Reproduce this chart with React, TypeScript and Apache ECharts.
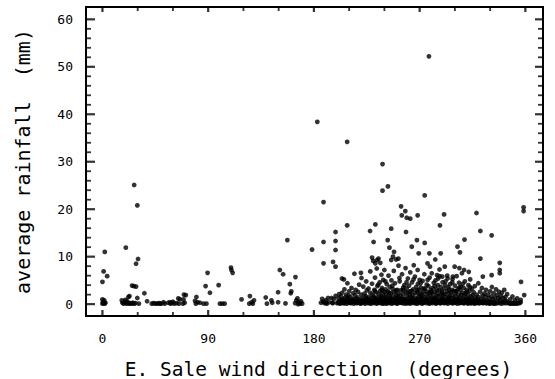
import React, { useEffect, useRef } from "react";
import * as echarts from "echarts";

const xMajorTicks = [0, 90, 180, 270, 360];
const xMinorTicks = [30, 60, 120, 150, 210, 240, 300, 330];
const yMajorTicks = [0, 10, 20, 30, 40, 50, 60];
const yMinorTicks = [2, 4, 6, 8, 12, 14, 16, 18, 22, 24, 26, 28, 32, 34, 36, 38, 42, 44, 46, 48, 52, 54, 56, 58];

// [wind direction (deg), average rainfall (mm)]
const northPoints = [
  [0, 0.1], [0.5, 0.5], [1, 0.2], [1.5, 0.8], [2, 0.1], [0, 1.0], [1, 0.4], [2.5, 0.3],
  [2, 11.0], [1, 6.9], [0, 4.7], [4, 5.9],
  [16.5, 0.8], [17, 0.3], [18, 0.1], [19, 0.5], [20, 0.2], [21, 0.1], [22, 0.3], [23, 0.1], [24, 0.2],
  [25, 0.1], [26, 0.3], [27, 0.1], [28, 0.2], [19.5, 0.9], [21, 0.6],
  [19.9, 11.9], [22.1, 1.5], [23, 1.7], [27, 25.1], [29.7, 20.8], [30.3, 9.5], [28.6, 8.5], [25.2, 3.9],
  [26.8, 3.8], [28.6, 3.7], [29.7, 1.3], [31, 0.1], [35.7, 2.3], [38, 0.6],
  [42, 0.1], [43.5, 0.2], [45, 0.1], [46.5, 0.1], [48, 0.2], [49, 0.1], [50, 0.1], [52, 0.4], [53, 0.1],
  [56, 0.3], [57.5, 0.4], [58, 0.1], [59, 0.3], [60, 0.5], [61, 0.1],
  [64.6, 1.2], [63, 0.2], [65, 0.1], [66, 1.0], [69.4, 2.0], [69, 1.0], [68.5, 0.1], [70, 0.3], [71, 1.9],
  [78.8, 0.7], [79.5, 0.1], [80, 1.5], [81, 0.4], [83, 0.3], [86, 0.1], [87.8, 3.8], [89.5, 6.6], [88.5, 0.1],
  [91.5, 2.4], [98.9, 4.0], [100, 0.1], [102, 0.1], [104, 0.1],
  [109.4, 7.7], [109.8, 7.2], [110.8, 6.6], [118.4, 1.0], [125.5, 1.7], [125, 0.1], [127, 0.4], [128, 0.1], [129, 0.8],
];

const southPoints = [
  [139, 1.4], [140, 0.1], [143.8, 0.8], [144.5, 0.3], [149.5, 2.5], [151, 7.2], [153.8, 6.3], [149.5, 0.4], [155.8, 0.15],
  [159.5, 4.2], [160.3, 2.3], [160.8, 2.7], [164.3, 5.7], [157.4, 13.5], [164, 0.2], [165, 0.8], [166, 1.2],
  [167, 0.4], [168, 0.1], [166.5, 0.0], [169, 0.6], [170, 0.1],
  [178.4, 11.5], [182.9, 38.4],
  [186, 0.3], [187, 1.1], [188, 0.5], [189, 0.2], [190, 0.8], [190.4, 0.3], [191, 0.1], [192, 1.3], [193, 0.4],
  [194.9, 1.3], [195.8, 0.3], [196, 0.2], [197, 1.1], [198.5, 1.75], [199.7, 0.2],
  [188.2, 21.5], [188.2, 13.1], [188.2, 8.6], [196.3, 8.9], [198.4, 15.2], [198.4, 13.3], [198.4, 11.4], [198.4, 7.9],
];

const southWestPoints = [
  [200.5, 0.3], [201, 1.2], [201.5, 2.1], [202, 0.1], [202.5, 0.7], [203, 1.6], [203.5, 0.2], [204, 2.4], [204.5, 0.5],
  [205, 1.0], [205.5, 5.2], [206, 0.2], [206, 3.1], [206.5, 1.4], [207, 0.6], [207.5, 2.0], [208, 0.1], [208.5, 4.4],
  [209, 0.9], [209.5, 1.8], [210, 0.3], [210, 2.7],
  [210.5, 0.8], [211, 1.5], [211.5, 0.2], [212, 3.4], [212.5, 0.6], [213, 1.1], [213.5, 2.3], [214, 0.1], [214.5, 6.4],
  [215, 0.4], [215, 1.9], [215.5, 3.0], [216, 0.7], [216.5, 0.2], [217, 1.4], [217.5, 2.6], [218, 0.5], [218.5, 4.1],
  [219, 1.0], [219.5, 0.1], [220, 2.0], [220, 6.6], [220.5, 5.5],
  [221, 0.3], [221.5, 1.3], [222, 3.7], [222.5, 0.6], [223, 2.2], [223.5, 0.1], [224, 1.7], [224.5, 4.8], [225, 0.4],
  [225, 2.9], [225.5, 1.0], [226, 0.2], [226.5, 3.3], [227, 1.5], [227.5, 0.5], [228, 6.9], [228, 2.4], [228.5, 0.1],
  [229, 1.2], [229.5, 4.3], [229.5, 9.8], [230, 0.7], [230, 2.0], [230.5, 9.1],
  [231, 0.2], [231, 1.6], [231.5, 3.0], [232, 0.5], [232, 5.6], [232.5, 1.1], [233, 2.5], [233.5, 0.1], [233.5, 7.5],
  [234, 1.4], [234, 3.8], [234.5, 0.6], [235, 2.1], [235, 9.6], [235.5, 0.3], [236, 1.0], [236, 4.6], [236.5, 8.7],
  [236.5, 2.8], [237, 0.2], [237, 1.7], [237.5, 6.2], [238, 0.8], [238, 3.4], [238.5, 0.1], [238.5, 2.2], [239, 1.3],
  [239, 5.1], [239.5, 0.4], [240, 2.6], [240, 0.9], [240, 7.2],
];

const westPoints = [
  [240.5, 0.2], [240.5, 1.5], [241, 3.1], [241, 0.6], [241.5, 2.0], [242, 0.1], [242, 4.2], [242.5, 1.1], [243, 0.4],
  [243, 2.7], [243.5, 6.0], [244, 1.8], [244, 0.3], [244.5, 3.6], [245, 0.8], [245, 1.4], [245.5, 2.3], [246, 0.1],
  [246, 5.0], [246.5, 0.9], [247, 3.2], [247, 1.6], [247.5, 0.2], [248, 2.5], [248, 7.0], [248.5, 0.5], [249, 1.2],
  [249, 4.4], [249.5, 0.3], [250, 2.0], [250, 9.4], [250, 0.7],
  [250.5, 1.5], [251, 0.1], [251, 3.0], [251.5, 0.6], [252, 2.2], [252, 8.1], [252.5, 1.0], [253, 0.3], [253, 4.8],
  [253.5, 1.8], [254, 0.4], [254, 2.9], [254.5, 0.9], [255, 6.3], [255, 1.3], [255.5, 0.2], [256, 3.5], [256, 2.1],
  [256.5, 0.6], [257, 1.1], [257, 4.0], [257.5, 0.1], [258, 2.6], [258, 7.6], [258.5, 0.5], [259, 1.7], [259, 3.3],
  [259.5, 0.8], [260, 0.2], [260, 2.4], [260, 5.4],
  [260.5, 1.2], [261, 0.4], [261, 3.9], [261.5, 2.0], [262, 0.1], [262, 6.7], [262.5, 1.5], [263, 0.7], [263, 2.8],
  [263.5, 4.6], [264, 0.3], [264, 1.9], [264.5, 3.1], [265, 0.9], [265, 8.2], [265.5, 0.2], [266, 2.3], [266, 5.8],
  [266.5, 1.3], [267, 0.5], [267, 3.6], [267.5, 1.0], [268, 2.5], [268, 0.1], [268.5, 4.3], [269, 1.6], [269, 0.6],
  [269.5, 3.0], [270, 0.3], [270, 2.0], [270, 5.1],
  [270.5, 1.1], [271, 0.4], [271, 3.5], [271.5, 2.2], [272, 0.1], [272, 1.7], [272.5, 4.9], [273, 0.8], [273, 2.7],
  [273.5, 0.3], [274, 1.4], [274, 6.3], [274.5, 3.2], [275, 0.6], [275, 2.1], [275.5, 0.2], [276, 1.0], [276, 4.1],
  [276.5, 2.6], [277, 0.5], [277, 1.5], [277.5, 3.8], [278, 0.1], [278, 2.3], [278.5, 5.6], [279, 0.9], [279, 1.8],
  [279.5, 3.0], [280, 0.4], [280, 2.5],
  [280.5, 1.3], [281, 0.2], [281, 3.4], [281.5, 2.0], [282, 0.7], [282, 4.5], [282.5, 1.1], [283, 0.3], [283, 2.6],
  [283.5, 5.0], [284, 1.5], [284, 0.1], [284.5, 3.1], [285, 0.8], [285, 2.2], [285.5, 4.0], [286, 0.4], [286, 1.7],
  [286.5, 2.9], [287, 0.9], [287, 5.9], [287.5, 0.2], [288, 1.9], [288, 3.6], [288.5, 0.6], [289, 2.4], [289, 1.2],
  [289.5, 4.6], [290, 0.3], [290, 2.0],
];

const northWestPoints = [
  [290.5, 1.0], [291, 3.3], [291, 0.2], [291.5, 2.1], [292, 0.7], [292, 4.8], [292.5, 1.5], [293, 0.4], [293, 2.7],
  [293.5, 6.0], [294, 1.2], [294, 0.1], [294.5, 3.6], [295, 0.8], [295, 2.2], [295.5, 1.6], [296, 0.3], [296, 4.2],
  [296.5, 2.5], [297, 0.6], [297, 1.3], [297.5, 3.0], [298, 0.2], [298, 5.3], [298.5, 1.9], [299, 0.5], [299, 2.8],
  [299.5, 1.1], [300, 0.3], [300, 3.9],
  [300.5, 1.7], [301, 0.4], [301, 2.6], [301.5, 5.9], [302, 1.0], [302, 0.1], [302.5, 3.2], [303, 2.0], [303, 0.6],
  [303.5, 4.5], [304, 1.4], [304, 0.2], [304.5, 2.9], [305, 0.8], [305, 3.7], [305.5, 1.9], [306, 0.3], [306, 6.5],
  [306.5, 2.4], [307, 1.1], [307, 0.5], [307.5, 3.4], [308, 0.2], [308, 1.6], [308.5, 4.8], [309, 0.9], [309, 2.2],
  [309.5, 0.4], [310, 1.3], [310, 3.0],
  [310.5, 0.6], [311, 2.1], [311, 0.1], [311.5, 4.0], [312, 1.2], [312, 0.3], [312.5, 2.8], [313, 0.7], [313, 5.2],
  [313.5, 1.6], [314, 0.2], [314.5, 3.3], [315, 0.9], [315, 1.9], [315.5, 0.4], [316, 2.5], [316.5, 0.1], [317, 1.4],
  [317, 3.8], [317.5, 0.6], [318, 0.2], [318.5, 2.0], [319, 1.0], [319.5, 0.3], [320, 4.4], [320, 1.5],
  [320.5, 0.2], [321, 0.6], [321.5, 2.6], [322, 1.1], [322.5, 0.3], [323, 3.4], [323.5, 1.8], [324, 0.2], [324.5, 0.9],
  [325, 2.2], [325.5, 0.4], [326, 1.5], [326.5, 3.0], [327, 0.2], [327.5, 0.7], [328, 2.0], [328.5, 0.3], [329, 1.2],
  [329.5, 0.1], [330, 2.7], [330.5, 0.5], [331, 1.6], [331.5, 3.6], [332, 0.2], [332.5, 1.0], [333, 2.3], [333.5, 0.4],
  [334, 1.4], [334.5, 0.1], [335, 3.1], [335.5, 0.6], [336, 1.9], [336.5, 0.2], [337, 1.2], [337.5, 2.6], [338, 0.3],
  [338.5, 0.9], [339, 1.7], [339.5, 0.1], [340, 2.4], [340.5, 0.5], [341, 1.3], [341.5, 0.2], [342, 3.0], [342.5, 0.7],
  [343, 1.5], [343.5, 0.2], [344, 0.6], [344.5, 2.1], [345, 0.3],
  [346, 0.2], [347, 0.1], [348, 0.2], [349, 0.1], [350, 0.2], [351, 0.1], [352, 0.2], [353, 0.1], [354, 0.3], [355, 0.2],
  [356, 0.4], [347, 1.0], [349, 1.6], [351, 0.8], [353, 1.2], [356, 0.9],
];

const westLowPoints = [
  [200.8, 0.5], [202.3, 0.3], [203.8, 0.9], [205.3, 0.2], [206.8, 0.4], [208.3, 1.2], [209.8, 0.6], [211.3, 0.3],
  [212.8, 0.9], [214.3, 0.5], [215.8, 1.1], [217.3, 0.3], [218.8, 0.7], [220.3, 0.2], [221.8, 0.9], [223.3, 0.4],
  [224.8, 1.3], [226.3, 0.6], [227.8, 0.2], [229.3, 0.8], [230.8, 0.4], [232.3, 1.2], [233.8, 0.3], [235.3, 0.7],
  [236.8, 1.4], [238.3, 0.5], [239.8, 0.2], [241.3, 1.1], [242.8, 0.6], [244.3, 0.3], [245.8, 1.0], [247.3, 0.4],
  [248.8, 0.8], [250.3, 0.2], [251.8, 1.3], [253.3, 0.6], [254.8, 0.3], [256.3, 1.0], [257.8, 0.5], [259.3, 0.2],
  [260.8, 0.8], [262.3, 0.4], [263.8, 1.2], [265.3, 0.6], [266.8, 0.2], [268.3, 0.9], [269.8, 0.5], [271.3, 1.3],
  [272.8, 0.3], [274.3, 0.7], [275.8, 1.1], [277.3, 0.4], [278.8, 0.2], [280.3, 0.9], [281.8, 0.5], [283.3, 1.2],
  [284.8, 0.3], [286.3, 0.7], [287.8, 0.2], [289.3, 1.0], [290.8, 0.6], [292.3, 0.3], [293.8, 0.8], [295.3, 1.2],
  [296.8, 0.4], [298.3, 0.2], [299.8, 0.9], [301.3, 0.5], [302.8, 1.1], [304.3, 0.3], [305.8, 0.6], [307.3, 0.2],
  [308.8, 0.8], [310.3, 0.4], [311.8, 1.0], [313.3, 0.2], [314.8, 0.5], [316.3, 0.9], [317.8, 0.3], [319.3, 0.6],
  [320.8, 0.2], [322.3, 0.5], [323.8, 0.3], [325.3, 0.6], [326.8, 0.2], [328.3, 0.4], [329.8, 0.2], [331.3, 0.5],
  [332.8, 0.1], [334.3, 0.3],
];

const westMidPoints = [
  [231.8, 2.8], [234.8, 4.1], [237.8, 3.0], [240.8, 4.8], [243.8, 2.4], [246.8, 3.9], [249.8, 2.9], [252.8, 5.5],
  [255.8, 3.0], [258.8, 4.6], [261.8, 2.7], [264.8, 5.2], [267.8, 2.9], [270.8, 4.4], [273.8, 3.3], [276.8, 5.1],
  [279.8, 2.6], [282.8, 3.8], [285.8, 5.4], [288.8, 2.8], [291.8, 4.0], [294.8, 3.1], [297.8, 4.6], [300.8, 2.7],
  [303.8, 3.5], [306.8, 4.3], [309.8, 2.5], [312.8, 3.6],
];

const upperPoints = [
  [208.3, 34.2], [208.3, 16.6], [203.9, 5.4],
  [238.4, 29.5], [243, 24.8], [238.4, 23.9], [254.2, 20.6], [257.8, 19.6], [254.8, 18.7], [259, 18.2], [262, 18.0],
  [268.3, 18.7], [274.3, 22.9], [277.9, 52.2], [290.8, 18.9], [318.4, 19.2],
  [227.8, 15.4], [232.3, 16.8], [245.8, 15.9], [258.4, 15.2], [287.3, 16.6], [321.7, 15.4], [331.3, 14.5], [308.2, 13.6],
  [267.7, 13.5], [274.3, 12.9], [230.8, 13.1], [242.8, 13.5], [263.3, 12.1], [244.3, 11.9], [248.2, 11.0], [302.2, 12.1],
  [304.3, 10.9], [269.2, 10.7], [278.3, 10.7], [287.9, 10.7], [283.3, 9.4], [321.7, 9.6],
  [233.8, 9.3], [232.3, 8.6], [247.3, 10.0], [245.8, 9.3], [251.9, 9.6], [338.2, 8.7], [338.2, 7.2], [338.2, 6.5],
  [331.3, 6.1], [323.8, 5.8],
  [299.8, 7.9], [303.8, 7.6], [307.8, 7.2], [311.8, 6.8], [291.4, 7.9], [276.7, 8.6], [278.8, 7.9], [268.3, 7.2],
  [286.9, 7.3], [280.3, 6.5], [284.8, 6.1], [289.3, 5.8], [293.8, 5.4], [298.3, 5.8],
  [356.3, 4.7], [359, 1.9], [358.5, 20.4], [358.5, 19.6],
];

const FONT = "DejaVu Sans Mono";

export default function App() {
  const ref = useRef<HTMLDivElement>(null);
  useEffect(() => {
    if (!ref.current) return;
    const chart = echarts.init(ref.current, null, { renderer: "svg" });
    const allPoints = [
      ...northPoints, ...southPoints, ...southWestPoints, ...westPoints, ...northWestPoints,
      ...westLowPoints, ...westMidPoints, ...upperPoints,
    ];
    const xMin = -14, xMax = 375, yMin = -2.5, yMax = 62.6;
    const black = "#000";

    // inward frame ticks drawn as rectangular scatter symbols at the frame edges,
    // each placed through the axes' scales and shifted inward by half its length
    const tickMarks = (data: number[][], len: number, w: number, side: string) => {
      const horizontal = side === "left" || side === "right";
      const size = horizontal ? [len, w] : [w, len];
      const offset =
        side === "left" ? [len / 2, 0] :
        side === "right" ? [-len / 2, 0] :
        side === "bottom" ? [0, -len / 2] : [0, len / 2];
      return {
        type: "scatter",
        data,
        symbol: "rect",
        symbolSize: size,
        symbolOffset: offset,
        itemStyle: { color: black },
        silent: true,
        clip: false,
        z: 10,
      };
    };

    chart.setOption({
      animation: false,
      backgroundColor: "#fff",
      grid: {
        left: 86, top: 7, width: 457, height: 309, containLabel: false, outerBoundsMode: "none",
        show: true, borderColor: black, borderWidth: 2, backgroundColor: "transparent",
      },
      xAxis: {
        type: "value", position: "bottom", min: xMin, max: xMax,
        axisLine: { show: false, onZero: false },
        axisTick: { show: false },
        axisLabel: { customValues: xMajorTicks, color: black, fontFamily: FONT, fontSize: 13, margin: 16 },
        splitLine: { show: false },
        name: "E. Sale wind direction  (degrees)",
        nameLocation: "middle", nameGap: 43,
        nameTextStyle: { color: black, fontFamily: FONT, fontSize: 19.5, padding: [0, 0, 0, 8] },
      },
      yAxis: {
        type: "value", position: "left", min: yMin, max: yMax,
        axisLine: { show: false, onZero: false },
        axisTick: { show: false },
        axisLabel: { customValues: yMajorTicks, color: black, fontFamily: FONT, fontSize: 13, margin: 13 },
        splitLine: { show: false },
        name: "average rainfall  (mm)",
        nameLocation: "middle", nameGap: 53,
        nameTextStyle: { color: black, fontFamily: FONT, fontSize: 20 },
      },
      series: [
        {
          type: "scatter",
          data: allPoints,
          symbol: "circle",
          symbolSize: 4.8,
          itemStyle: { color: black },
          silent: true,
        },
        tickMarks(yMajorTicks.map((v) => [xMin, v]), 9, 2.2, "left"),
        tickMarks(yMinorTicks.map((v) => [xMin, v]), 5, 1.8, "left"),
        tickMarks(yMajorTicks.map((v) => [xMax, v]), 8, 2.2, "right"),
        tickMarks(yMinorTicks.map((v) => [xMax, v]), 5, 1.8, "right"),
        tickMarks(xMajorTicks.map((v) => [v, yMin]), 6, 2.2, "bottom"),
        tickMarks(xMinorTicks.map((v) => [v, yMin]), 4, 1.8, "bottom"),
        tickMarks(xMajorTicks.map((v) => [v, yMax]), 5, 2.2, "top"),
        tickMarks(xMinorTicks.map((v) => [v, yMax]), 4, 1.8, "top"),
      ],
    });

    return () => chart.dispose();
  }, []);
  return <div ref={ref} style={{ width: 555, height: 379, position: "absolute", left: 0, top: 0 }} />;
}
